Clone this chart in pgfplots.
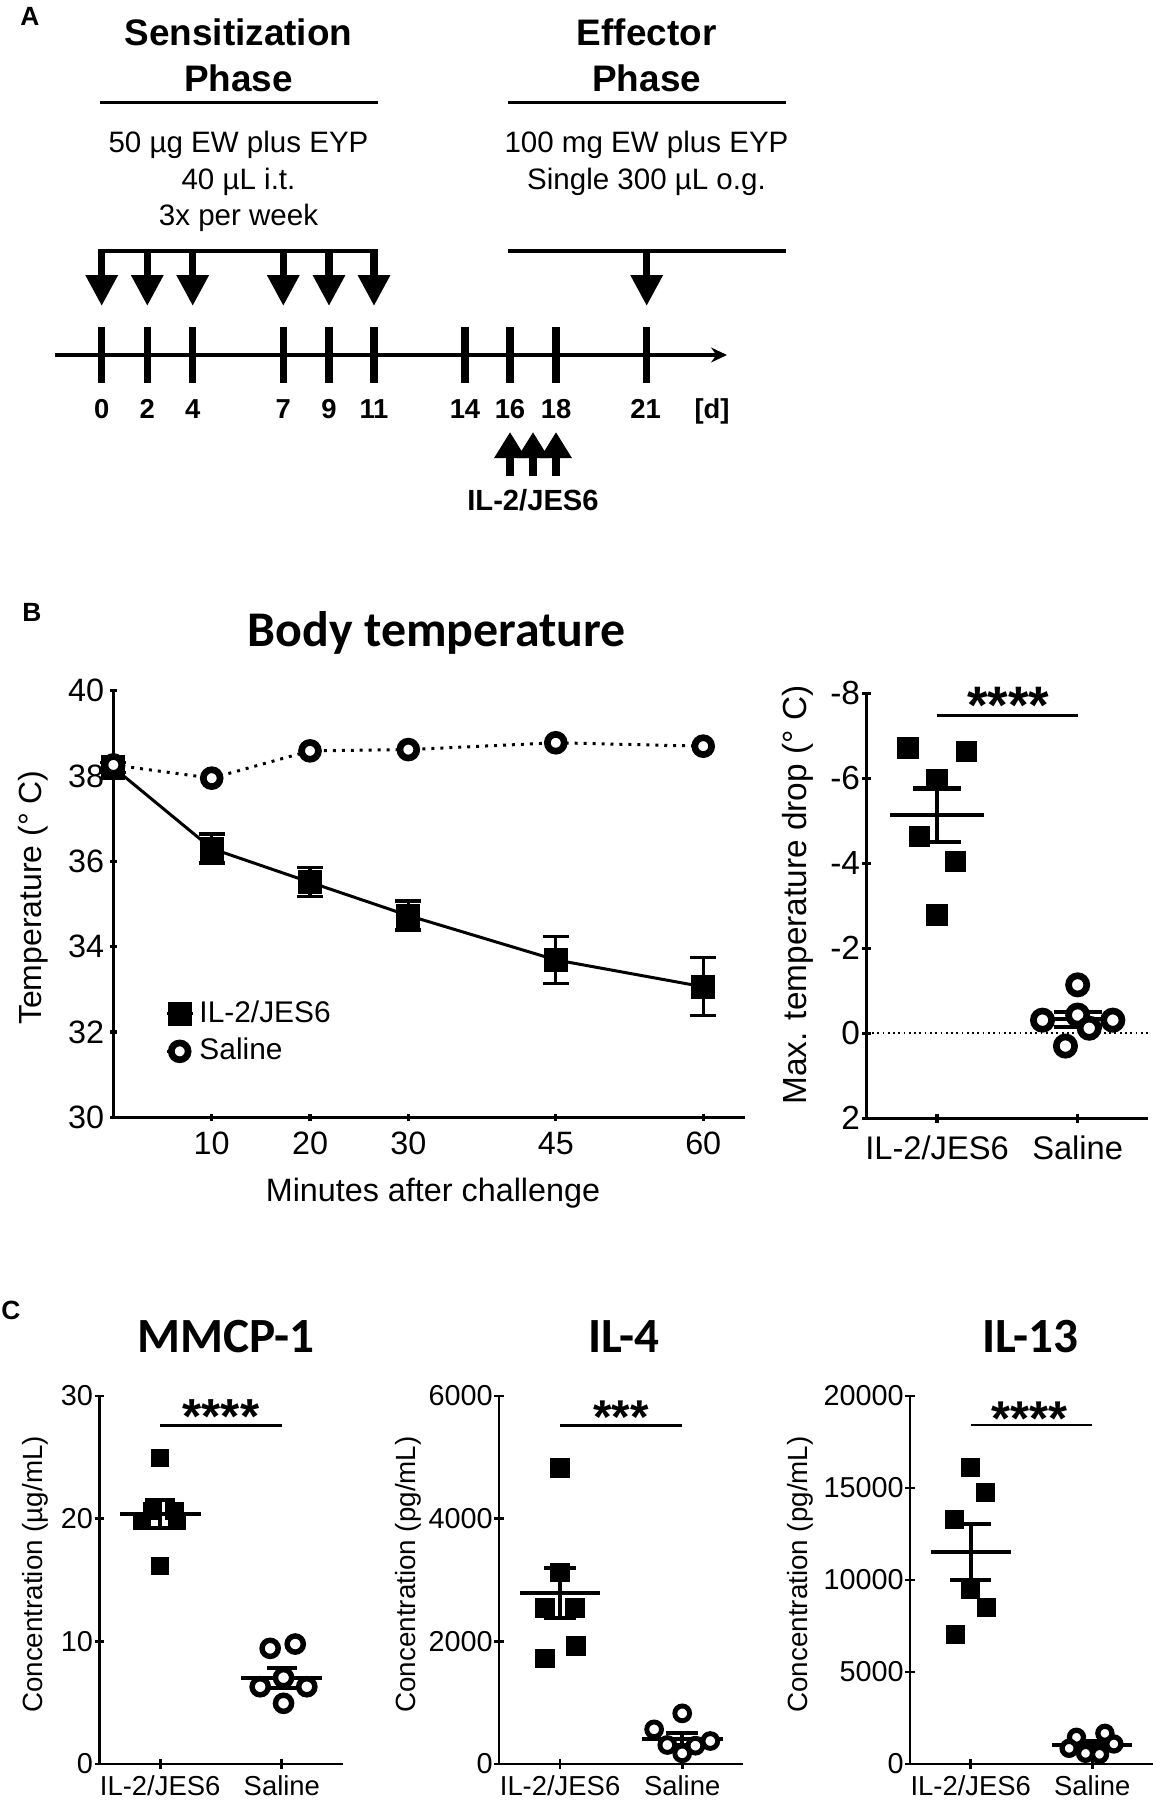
\documentclass[border=0pt]{standalone}
\usepackage{fontspec}
\setmainfont{Liberation Sans}
\newfontfamily\calibri{Carlito}
\usepackage{pgfplots}
\pgfplotsset{compat=1.18}
\usetikzlibrary{arrows.meta}

\newcommand\fs[1]{\fontsize{#1pt}{#1pt}\selectfont}
\tikzset{sig/.style={line width=0.8pt}}

\pgfplotsset{
  panel/.style={
    scale only axis, clip=false,
    tick align=outside,
    /pgf/number format/assume math mode=true,
    /pgf/number format/set thousands separator={},
    scaled y ticks=false,
  },
  cat/.style={xmin=-0.5, xmax=1.5, xtick={0,1},
    xticklabels={IL-2/JES6,Saline}},
  cpanel/.style={panel, cat, axis lines=left,
    x axis line style={-}, y axis line style={-},
    axis line style={line width=0.77pt}, tick style={black, line width=0.77pt},
    major tick length=2.6pt, ymin=0,
    yticklabel style={font=\fs{8.2}, inner sep=0.3pt},
    xticklabel style={font=\fs{7.8}, inner sep=1.7pt},
    ylabel style={font=\fs{7.9}, anchor=center},
    width=24.34mm, height=36.8mm, anchor=south west},
  sq/.style={only marks, mark=square*, mark size=#1,
    mark options={fill=black, draw=black, line width=0.4pt}},
  ci/.style 2 args={only marks, mark=*, mark size=#1,
    mark options={fill=white, draw=black, line width=#2}},
  meanbar/.style 2 args={only marks, mark=-, mark size=#1,
    mark options={line width=1.2pt, black},
    error bars/y dir=both, error bars/y explicit,
    error bars/error bar style={line width=1.2pt, black},
    error bars/error mark options={rotate=90, mark size=#2, line width=1.2pt, black}},
}

\begin{document}
\begin{tikzpicture}
\path[use as bounding box] (0,0) rectangle (115.9mm,-180.3mm);

% ---------- A: schedule (pixel units of the figure) ----------
\begin{axis}[at={(0mm,0mm)}, anchor=north west, scale only axis,
  width=115.9mm, height=52mm, xmin=0, xmax=1159, ymin=0, ymax=520,
  y dir=reverse, hide axis, clip=false]
\node[font=\bfseries\fs{7.5}, anchor=base] at (30,25) {A};
\node[font=\bfseries\fs{10.5}, anchor=base] at (238.5,45) {Sensitization};
\node[font=\bfseries\fs{10.5}, anchor=base] at (238.5,91) {Phase};
\draw[line width=1pt] (99.5,102.5) -- (377.6,102.5);
\node[font=\fs{8.4}, anchor=base] at (238.5,152) {50 µg EW plus EYP};
\node[font=\fs{8.4}, anchor=base] at (238.5,189) {40 µL i.t.};
\node[font=\fs{8.4}, anchor=base] at (238.5,225) {3x per week};
\node[font=\bfseries\fs{10.5}, anchor=base] at (646.7,45) {Effector};
\node[font=\bfseries\fs{10.5}, anchor=base] at (646.7,91) {Phase};
\draw[line width=1pt] (508,102.5) -- (786,102.5);
\node[font=\fs{8.4}, anchor=base] at (646.5,152) {100 mg EW plus EYP};
\node[font=\fs{8.4}, anchor=base] at (646.5,189) {Single 300 µL o.g.};
% brackets and arrows
\draw[line width=1.15pt] (98,251) -- (378,251);
\draw[line width=1.15pt] (508,251) -- (786,251);
\draw[line width=2.1pt, -{Triangle[length=8.8pt,width=8.7pt]}] (101.7,250) -- (101.7,306);
\draw[line width=2.1pt, -{Triangle[length=8.8pt,width=8.7pt]}] (147.3,250) -- (147.3,306);
\draw[line width=2.1pt, -{Triangle[length=8.8pt,width=8.7pt]}] (192.7,250) -- (192.7,306);
\draw[line width=2.1pt, -{Triangle[length=8.8pt,width=8.7pt]}] (283.3,250) -- (283.3,306);
\draw[line width=2.1pt, -{Triangle[length=8.8pt,width=8.7pt]}] (329,250) -- (329,306);
\draw[line width=2.1pt, -{Triangle[length=8.8pt,width=8.7pt]}] (374,250) -- (374,306);
\draw[line width=2.1pt, -{Triangle[length=8.8pt,width=8.7pt]}] (646.7,250) -- (646.7,306);
% timeline
\draw[line width=1.3pt, -{Stealth[length=4.5pt,width=4.2pt]}] (55,355) -- (727,355);
\draw[line width=2.1pt] (101.7,327) -- (101.7,383);
\draw[line width=2.1pt] (147.3,327) -- (147.3,383);
\draw[line width=2.1pt] (192.7,327) -- (192.7,383);
\draw[line width=2.1pt] (283.3,327) -- (283.3,383);
\draw[line width=2.1pt] (329,327) -- (329,383);
\draw[line width=2.1pt] (374,327) -- (374,383);
\draw[line width=2.1pt] (465,327) -- (465,383);
\draw[line width=2.1pt] (510,327) -- (510,383);
\draw[line width=2.1pt] (556,327) -- (556,383);
\draw[line width=2.1pt] (646.7,327) -- (646.7,383);
\node[font=\bfseries\fs{7.8}, anchor=base] at (101.7,418) {0};
\node[font=\bfseries\fs{7.8}, anchor=base] at (147.3,418) {2};
\node[font=\bfseries\fs{7.8}, anchor=base] at (192.7,418) {4};
\node[font=\bfseries\fs{7.8}, anchor=base] at (283.3,418) {7};
\node[font=\bfseries\fs{7.8}, anchor=base] at (329,418) {9};
\node[font=\bfseries\fs{7.8}, anchor=base] at (374,418) {11};
\node[font=\bfseries\fs{7.8}, anchor=base] at (465,418) {14};
\node[font=\bfseries\fs{7.8}, anchor=base] at (510,418) {16};
\node[font=\bfseries\fs{7.8}, anchor=base] at (556,418) {18};
\node[font=\bfseries\fs{7.8}, anchor=base] at (645.6,418) {21};
\node[font=\bfseries\fs{7.8}, anchor=base] at (712,418) {[d]};
\draw[line width=2.1pt, -{Triangle[length=7.4pt,width=8.5pt]}] (510,476) -- (510,432);
\draw[line width=2.1pt, -{Triangle[length=7.4pt,width=8.5pt]}] (533,476) -- (533,432);
\draw[line width=2.1pt, -{Triangle[length=7.4pt,width=8.5pt]}] (556,476) -- (556,432);
\node[font=\bfseries\fs{8.3}, anchor=base] at (533,510) {IL-2/JES6};
\end{axis}

% ---------- B left: body temperature ----------
\begin{axis}[panel, axis lines=left, x axis line style={-}, y axis line style={-},
  axis line style={line width=0.95pt}, tick style={black, line width=0.95pt},
  major tick length=2.1pt,
  at={(11.34mm,-111.73mm)}, anchor=south west, width=63.16mm, height=42.66mm,
  xmin=0, xmax=64.25, ymin=30, ymax=40,
  xtick={10,20,30,45,60}, ytick={30,32,34,36,38,40},
  yticklabel style={font=\fs{9.2}, inner sep=1.4pt},
  xticklabel style={font=\fs{9.2}, inner sep=3pt},
  xlabel={Minutes after challenge}, ylabel={Temperature (° C)},
  xlabel style={font=\fs{9.2}, at={(axis description cs:0.506,-0.1775)}, anchor=center},
  ylabel style={font=\fs{9.1}, at={(axis description cs:-0.127,0.515)}, anchor=center},
  legend style={at={(axis cs:5.2,32.88)}, anchor=north west, draw=none, fill=none,
    font=\fs{8.5}, inner sep=0pt, row sep=0pt, nodes={inner sep=1.5pt}},
  legend cell align=left,
  legend image code/.code={\draw[mark repeat=2,mark phase=2,#1] plot coordinates {(0mm,0mm) (1.3mm,0mm) (2.6mm,0mm)};},
]
\addplot[black, line width=0.85pt, mark=square*, mark size=3pt,
  mark options={solid, fill=black},
  error bars/y dir=both, error bars/y explicit,
  error bars/error bar style={line width=0.95pt, solid},
  error bars/error mark options={rotate=90, mark size=3.7pt, line width=0.95pt}]
  coordinates {(0,38.20) +- (0,0.12) (10,36.30) +- (0,0.34) (20,35.51) +- (0,0.34)
               (30,34.73) +- (0,0.34) (45,33.69) +- (0,0.55) (60,33.06) +- (0,0.68)};
\addplot[black, line width=0.85pt, dash pattern=on 0.85pt off 1.7pt,
  mark=*, mark size=2.4pt, mark options={solid, fill=white, line width=1.9pt}]
  coordinates {(0,38.26) (10,37.95) (20,38.59) (30,38.62) (45,38.78) (60,38.70)};
\legend{IL-2/JES6,Saline}
\node[font=\calibri\bfseries\fs{14.2}, anchor=base] at (axis description cs:0.512,1.1025) {Body temperature};
\node[font=\bfseries\fs{7.5}, anchor=base] at (axis description cs:-0.129,1.1634) {B};
\end{axis}

% ---------- B right: max temperature drop ----------
\begin{axis}[panel, cat, axis x line=bottom, axis y line=left,
  x axis line style={-}, y axis line style={-}, y dir=reverse,
  axis line style={line width=0.95pt}, tick style={black, line width=0.95pt},
  major tick length=2.4pt,
  at={(86.67mm,-111.83mm)}, anchor=south west, width=28.13mm, height=42.5mm,
  ymin=-8, ymax=2, ytick={-8,-6,-4,-2,0,2}, yticklabels={-8,-6,-4,-2,0,2},
  yticklabel style={font=\fs{9.5}, inner sep=0.5pt},
  xticklabel style={font=\fs{9.3}, inner sep=3.6pt},
  ylabel={Max. temperature drop (° C)},
  ylabel style={font=\fs{9.5}, at={(axis description cs:-0.243,0.525)}, anchor=center},
]
\draw[line width=0.5pt, dash pattern=on 0.5pt off 1pt] (axis cs:-0.5,0) -- (axis cs:1.5,0);
\addplot[meanbar={13.3pt}{6.8pt}] coordinates {(0,-5.13) +- (0,0.63) (1,-0.33) +- (0,0.18)};
\addplot[sq=2.85pt] coordinates {(-0.206,-6.71) (0.208,-6.63) (0,-5.96) (-0.124,-4.63) (0.133,-4.04) (0,-2.78)};
\addplot[ci={2.6pt}{1.9pt}] coordinates {(1,-1.14) (0.75,-0.31) (1,-0.43) (1.25,-0.31) (1.082,-0.12) (0.913,0.30)};
\draw[sig] (axis cs:0,-7.47) -- (axis cs:1,-7.47);
\node[font=\bfseries\fs{15}, anchor=base] at (axis cs:0.508,-7.30) {****};
\end{axis}

% ---------- C: MMCP-1 ----------
\begin{axis}[cpanel, at={(9.93mm,-176.4mm)}, ymax=30, ytick={0,10,20,30},
  ylabel={Concentration (µg/mL)}, ylabel style={at={(axis description cs:-0.264,0.515)}}]
\addplot[meanbar={11.5pt}{4.3pt}] coordinates {(0,20.38) +- (0,1.15) (1,7.0) +- (0,0.8)};
\addplot[sq=2.4pt] coordinates {(0,24.92) (0,16.17) (-0.067,20.64) (0.119,20.64) (-0.149,19.82) (0.138,19.82)};
\addplot[ci={2.3pt}{1.55pt}] coordinates {(0.904,9.43) (1.11,9.78) (1.014,7.04) (0.822,6.30) (1.205,6.30) (1.014,4.95)};
\draw[sig] (axis cs:0,27.58) -- (axis cs:1,27.58);
\node[font=\bfseries\fs{14}, anchor=base] at (axis cs:0.5,26.93) {****};
\node[font=\calibri\bfseries\fs{14}, anchor=base] at (axis description cs:0.52,1.1196) {MMCP-1};
\node[font=\bfseries\fs{7.5}, anchor=base] at (axis description cs:-0.363,1.209) {C};
\end{axis}

% ---------- C: IL-4 ----------
\begin{axis}[cpanel, at={(49.9mm,-176.4mm)}, width=24.43mm, ymax=6000, ytick={0,2000,4000,6000},
  ylabel={Concentration (pg/mL)}, ylabel style={at={(axis description cs:-0.372,0.515)}}]
\addplot[meanbar={11.5pt}{4.6pt}] coordinates {(0,2790) +- (0,410) (1,410) +- (0,95)};
\addplot[sq=2.6pt] coordinates {(0,4832) (0,3125) (-0.122,2549) (0.122,2549) (0.13,1924) (-0.122,1723)};
\addplot[ci={2.1pt}{1.4pt}] coordinates {(1,826) (0.77,565) (1.23,375) (0.878,310) (1.108,299) (1,174)};
\draw[sig] (axis cs:0,5516) -- (axis cs:1,5516);
\node[font=\bfseries\fs{13.5}, anchor=base] at (axis cs:0.5,5387) {***};
\node[font=\calibri\bfseries\fs{14}, anchor=base] at (axis description cs:0.512,1.1196) {IL-4};
\end{axis}

% ---------- C: IL-13 ----------
\begin{axis}[cpanel, at={(91.0mm,-176.4mm)}, width=24.3mm, ymax=20000, ytick={0,5000,10000,15000,20000},
  ylabel={Concentration (pg/mL)}, ylabel style={at={(axis description cs:-0.453,0.515)}}]
\addplot[meanbar={11.4pt}{5.8pt}] coordinates {(0,11525) +- (0,1515) (1,1030) +- (0,190)};
\addplot[sq=2.5pt] coordinates {(0,16134) (0.123,14737) (-0.13,13285) (0,9474) (0.129,8512) (-0.123,7024)};
\addplot[ci={2.0pt}{1.5pt}] coordinates {(0.87,1452) (1.104,1670) (0.81,853) (0.945,581) (1.06,526) (1.178,1089)};
\draw[sig] (axis cs:0,18421) -- (axis cs:1,18421);
\node[font=\bfseries\fs{13.9}, anchor=base] at (axis cs:0.48,17864) {****};
\node[font=\calibri\bfseries\fs{14}, anchor=base] at (axis description cs:0.494,1.1196) {IL-13};
\end{axis}
\end{tikzpicture}
\end{document}
